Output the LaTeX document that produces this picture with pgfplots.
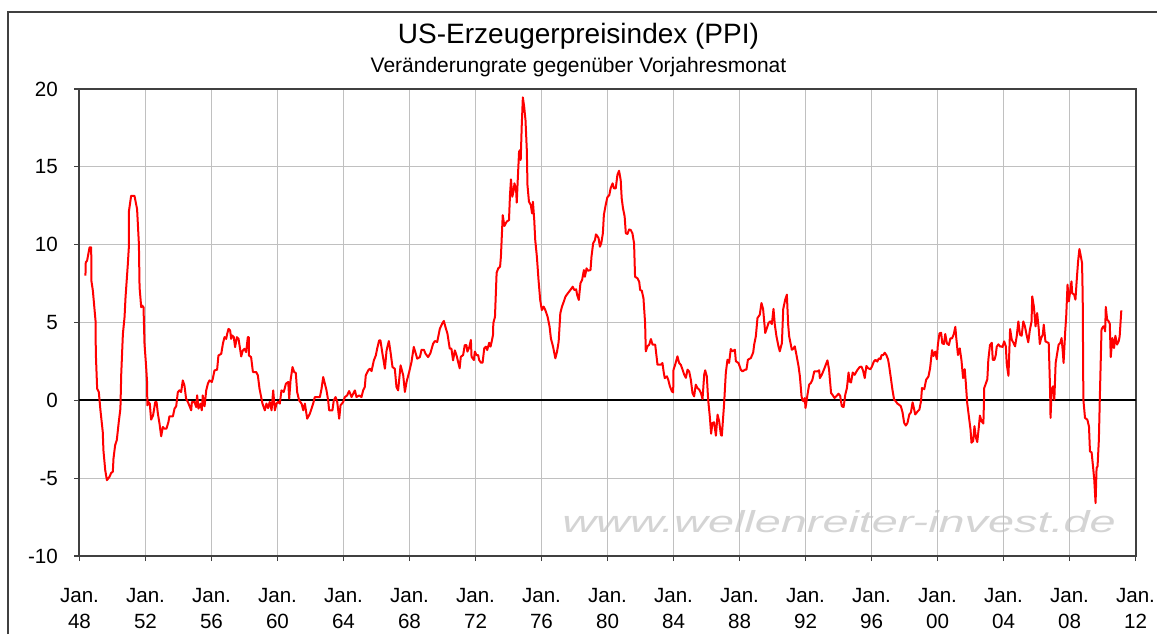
\documentclass[border=0pt]{standalone}
\usepackage{fontspec}
\setmainfont{Liberation Sans}
\usepackage{pgfplots}
\pgfplotsset{compat=1.18}
\definecolor{gridgray}{RGB}{192,192,192}
\definecolor{framegray}{RGB}{64,64,64}
\definecolor{wmgray}{RGB}{212,212,212}
\begin{document}
\begin{tikzpicture}
\useasboundingbox (0,0) rectangle (578.5pt,-317pt);
\draw[line width=1pt, framegray] (4pt,-317pt) -- (4pt,-6pt) -- (578.5pt,-6pt);
\node[font=\fontsize{14}{16}\selectfont] at (289.25pt,-18pt) {US-Erzeugerpreisindex (PPI)};
\node[font=\fontsize{10.5}{12}\selectfont] at (289.25pt,-33.5pt) {Veränderungrate gegenüber Vorjahresmonat};
\node[anchor=base west, inner sep=0pt, text=wmgray, font=\itshape\fontsize{15.2}{16}\selectfont] at (281pt,-266pt) {\scalebox{1.54}[1]{www.wellenreiter-invest.de}};
\begin{axis}[
  at={(39.75pt,-278pt)}, anchor=south west,
  scale only axis, width=528pt, height=233.5pt,
  xmin=1948, xmax=2012, ymin=-10, ymax=20,
  xtick={1948,1952,...,2012}, ytick={-10,-5,...,20},
  xticklabels={{Jan.\\48},{Jan.\\52},{Jan.\\56},{Jan.\\60},{Jan.\\64},{Jan.\\68},{Jan.\\72},{Jan.\\76},{Jan.\\80},{Jan.\\84},{Jan.\\88},{Jan.\\92},{Jan.\\96},{Jan.\\00},{Jan.\\04},{Jan.\\08},{Jan.\\12}},
  yticklabels={-10,-5,0,5,10,15,20},
  xticklabel style={align=center, font=\fontsize{10.3}{13}\selectfont, yshift=-10pt},
  yticklabel style={font=\fontsize{10.3}{13}\selectfont, xshift=-4.8pt},
  grid=major, major grid style={draw=gridgray, line width=0.5pt},
  axis line style={draw=framegray, line width=1pt},
  tick style={draw=framegray, line width=0.6pt},
  tick align=outside, major tick length=2.5pt,
  xtick pos=bottom, ytick pos=left,
  clip=false,
]
\addplot[black, line width=1pt] coordinates {(1948,0) (2012,0)};
\addplot[red, line width=1pt, line join=round] coordinates {
(1948.36,8.01) (1948.38,8.87) (1948.46,8.97) (1948.61,9.83) (1948.71,9.83) (1948.72,7.69) (1948.81,7.05) (1948.97,5.13) (1948.99,2.99) (1949.07,0.75) (1949.17,0.53) (1949.27,-0.64) (1949.41,-2.03) (1949.45,-3.21) (1949.56,-4.49) (1949.66,-5.13) (1949.82,-4.91) (1949.92,-4.66) (1950.02,-4.59) (1950.06,-3.74) (1950.16,-2.88) (1950.26,-2.56) (1950.38,-1.39) (1950.48,-0.53) (1950.53,1.71) (1950.63,4.27) (1950.73,5.34) (1950.79,6.62) (1950.93,8.76) (1950.99,9.83) (1951.00,12.18) (1951.13,13.14) (1951.33,13.14) (1951.49,12.29) (1951.60,10.04) (1951.64,7.26) (1951.74,5.98) (1951.80,6.09) (1951.88,5.98) (1951.94,3.63) (1952.04,2.14) (1952.10,1.07) (1952.11,-0.32) (1952.18,-0.11) (1952.26,-0.21) (1952.34,-1.24) (1952.46,-0.96) (1952.59,-0.11) (1952.67,-0.11) (1952.75,-0.85) (1952.85,-1.50) (1952.95,-2.31) (1953.05,-1.71) (1953.15,-1.82) (1953.27,-1.82) (1953.39,-1.39) (1953.45,-1.03) (1953.66,-1.03) (1953.76,-0.53) (1953.86,-0.38) (1953.96,0.53) (1954.06,0.64) (1954.16,0.53) (1954.26,1.28) (1954.36,0.96) (1954.46,0.11) (1954.57,-0.11) (1954.77,-0.64) (1954.81,-0.11) (1954.97,-0.11) (1955.07,-0.43) (1955.13,0.32) (1955.21,-0.53) (1955.33,-0.21) (1955.41,-0.64) (1955.47,0.32) (1955.58,-0.38) (1955.68,0.64) (1955.78,1.07) (1955.88,1.28) (1956.02,1.18) (1956.08,1.39) (1956.18,1.92) (1956.34,1.97) (1956.42,2.88) (1956.59,2.99) (1956.69,3.63) (1956.79,4.06) (1956.89,3.95) (1956.95,4.27) (1957.03,4.59) (1957.13,4.49) (1957.19,3.95) (1957.25,4.17) (1957.35,4.06) (1957.43,3.42) (1957.54,4.06) (1957.64,3.95) (1957.80,2.82) (1957.90,3.21) (1958.00,3.31) (1958.10,3.10) (1958.20,4.06) (1958.26,4.06) (1958.27,2.88) (1958.40,2.78) (1958.51,1.82) (1958.71,1.82) (1958.81,1.60) (1958.91,0.75)
(1959.09,-0.21) (1959.23,-0.64) (1959.33,-0.21) (1959.43,-0.50) (1959.53,-0.10) (1959.64,-0.64) (1959.74,0.64) (1959.84,-0.64) (1959.94,-0.21) (1960.04,-0.10) (1960.14,-0.21) (1960.24,0.64) (1960.38,0.54) (1960.51,1.07) (1960.65,1.18) (1960.71,0.11) (1960.79,1.28) (1960.91,2.14) (1961.01,1.82) (1961.11,1.76) (1961.19,0.54) (1961.31,0.00) (1961.46,-0.21) (1961.56,-0.64) (1961.66,-0.21) (1961.80,-1.18) (1961.96,-0.86) (1962.06,-0.54) (1962.16,-0.21) (1962.26,0.21) (1962.57,0.21) (1962.67,0.75) (1962.77,1.50) (1962.87,1.07) (1962.97,0.64) (1963.07,0.00) (1963.13,-0.64) (1963.33,-0.64) (1963.41,0.00) (1963.52,0.21) (1963.62,-0.11) (1963.74,-1.18) (1963.82,-0.32) (1963.98,-0.11) (1964.08,0.21) (1964.22,0.32) (1964.34,0.60) (1964.49,0.21) (1964.69,0.64) (1964.79,0.21) (1964.95,0.32) (1965.09,0.21) (1965.19,0.64) (1965.29,0.86) (1965.35,1.60) (1965.50,1.93) (1965.60,2.03) (1965.70,1.88) (1965.84,2.57) (1965.96,2.89) (1966.04,3.32) (1966.16,3.85) (1966.24,3.85) (1966.36,3.00) (1966.51,2.03) (1966.61,3.21) (1966.75,3.81) (1966.85,3.10) (1966.97,2.14) (1967.11,2.03) (1967.21,0.86) (1967.31,0.64) (1967.46,2.25) (1967.62,1.60) (1967.72,0.54) (1967.82,1.18) (1967.98,1.82) (1968.12,2.46) (1968.26,3.43) (1968.38,3.00) (1968.47,2.68) (1968.63,2.78) (1968.73,3.25) (1968.87,3.25) (1968.97,3.00) (1969.13,2.78) (1969.27,3.04) (1969.43,3.64) (1969.54,3.81) (1969.68,3.75) (1969.84,4.60) (1969.98,4.93) (1970.08,5.10) (1970.18,4.71) (1970.30,4.28) (1970.44,3.32) (1970.54,3.32) (1970.64,2.57) (1970.75,3.21) (1970.85,2.89)
(1971.04,2.06) (1971.11,2.80) (1971.25,2.91) (1971.35,3.55) (1971.45,3.55) (1971.51,3.13) (1971.62,3.40) (1971.72,3.88) (1971.76,2.80) (1971.90,2.59) (1971.96,3.13) (1972.06,2.91) (1972.16,2.91) (1972.22,2.59) (1972.33,2.42) (1972.43,2.42) (1972.53,3.34) (1972.63,3.45) (1972.71,3.23) (1972.83,3.70) (1972.91,3.45) (1972.98,3.77) (1973.06,4.20) (1973.08,4.95) (1973.18,5.37) (1973.28,8.20) (1973.38,8.48) (1973.49,8.59) (1973.54,9.23) (1973.65,11.90) (1973.75,11.20) (1973.89,11.48) (1974.03,11.58) (1974.09,13.19) (1974.15,14.20) (1974.23,13.08) (1974.32,13.51) (1974.36,13.94) (1974.46,13.55) (1974.50,12.70) (1974.56,14.15) (1974.64,15.97) (1974.70,16.08) (1974.74,15.44) (1974.80,17.58) (1974.87,19.46) (1974.95,18.86) (1975.03,18.00) (1975.11,16.08) (1975.15,13.83) (1975.24,12.76) (1975.35,12.55) (1975.43,12.01) (1975.48,12.76) (1975.56,11.58) (1975.62,10.30) (1975.72,9.23) (1975.82,7.73) (1975.92,6.45) (1976.02,5.80) (1976.13,6.02) (1976.23,5.80) (1976.37,5.37) (1976.49,4.73) (1976.57,3.98) (1976.70,3.45) (1976.84,2.70) (1976.94,3.13) (1977.04,3.77) (1977.14,5.59) (1977.24,6.02) (1977.35,6.34) (1977.45,6.66) (1977.59,6.87) (1977.75,7.09) (1977.89,7.30) (1977.99,7.09) (1978.10,7.13) (1978.16,6.77) (1978.26,6.45) (1978.36,7.52) (1978.46,7.73) (1978.57,8.37) (1978.63,7.94) (1978.73,8.48) (1978.81,8.33) (1978.97,8.37) (1979.03,9.23) (1979.13,10.09) (1979.24,10.30) (1979.30,10.66) (1979.38,10.56) (1979.46,10.41) (1979.54,9.87) (1979.62,10.09) (1979.72,10.73) (1979.78,11.91) (1979.89,12.55) (1979.99,13.04) (1980.11,13.19) (1980.19,13.62) (1980.31,13.94) (1980.39,13.62) (1980.50,13.62) (1980.60,14.48) (1980.70,14.75) (1980.80,14.15) (1980.86,12.98) (1980.94,12.33) (1981.04,11.80) (1981.11,10.73) (1981.21,10.69) (1981.31,10.98) (1981.41,10.94) (1981.51,10.73) (1981.61,10.09) (1981.67,7.94) (1981.82,7.84) (1981.92,7.62) (1981.98,7.09) (1982.08,7.04) (1982.18,6.55) (1982.28,4.95)
(1982.32,3.15) (1982.42,3.47) (1982.53,3.58) (1982.63,3.94) (1982.73,3.58) (1982.89,3.58) (1983.03,2.29) (1983.23,2.29) (1983.33,2.40) (1983.40,1.85) (1983.47,1.43) (1983.60,1.54) (1983.68,1.33) (1983.78,0.90) (1983.90,0.58) (1983.98,0.51) (1984.00,1.97) (1984.10,2.29) (1984.24,2.83) (1984.34,2.40) (1984.44,2.29) (1984.55,1.97) (1984.65,1.65) (1984.75,1.45) (1984.85,1.97) (1984.95,1.86) (1985.05,1.33) (1985.15,0.47) (1985.25,0.26) (1985.35,1.01) (1985.45,0.79) (1985.56,0.69) (1985.66,0.47) (1985.76,0.09) (1985.86,1.65) (1985.92,1.93) (1986.02,1.54) (1986.10,0.04) (1986.20,-1.03) (1986.28,-2.14) (1986.36,-1.46) (1986.46,-1.41) (1986.57,-2.27) (1986.67,-0.92) (1986.77,-1.35) (1986.87,-2.21) (1986.93,-2.27) (1987.07,-0.17) (1987.17,1.76) (1987.27,2.61) (1987.37,2.40) (1987.47,3.30) (1987.58,3.15) (1987.72,3.25) (1987.78,2.51) (1987.94,2.40) (1988.08,1.97) (1988.18,1.86) (1988.34,1.97) (1988.42,1.97) (1988.51,2.61) (1988.69,2.72) (1988.83,3.08) (1988.89,3.58) (1988.99,4.11) (1989.09,5.29) (1989.23,5.50) (1989.33,6.25) (1989.43,5.87) (1989.56,4.33) (1989.64,4.58) (1989.76,4.97) (1989.86,5.07) (1989.96,4.90) (1990.06,5.87) (1990.14,4.86) (1990.24,4.11) (1990.36,3.47) (1990.44,3.15) (1990.57,3.68) (1990.65,5.87) (1990.77,6.47) (1990.87,6.79) (1990.95,4.86) (1991.01,4.11) (1991.11,3.58) (1991.17,3.25) (1991.25,3.30) (1991.35,3.47) (1991.45,2.93) (1991.58,2.18) (1991.66,1.54) (1991.76,0.26) (1991.82,0.00) (1991.88,-0.06) (1991.96,0.15) (1992.00,-0.49) (1992.12,0.36) (1992.22,1.01) (1992.32,1.11) (1992.42,1.33) (1992.53,1.86) (1992.73,1.86) (1992.83,1.93) (1992.87,1.43) (1992.99,1.65) (1993.13,2.01) (1993.23,2.29) (1993.33,2.57) (1993.43,1.97) (1993.47,1.43)
(1993.55,0.47) (1993.63,0.36) (1993.76,0.15) (1993.90,0.30) (1994.00,0.43) (1994.10,0.30) (1994.20,-0.38) (1994.31,-0.43) (1994.41,0.36) (1994.51,0.79) (1994.61,1.79) (1994.67,1.21) (1994.76,1.15) (1994.86,1.79) (1994.98,1.64) (1995.12,1.91) (1995.27,2.13) (1995.39,2.17) (1995.49,1.91) (1995.59,1.43) (1995.69,2.21) (1995.80,2.06) (1995.94,2.00) (1996.04,2.21) (1996.14,2.49) (1996.24,2.60) (1996.35,2.49) (1996.45,2.70) (1996.55,2.65) (1996.61,2.91) (1996.71,2.91) (1996.80,3.06) (1996.90,2.91) (1997.00,2.64) (1997.06,2.28) (1997.16,1.53) (1997.27,0.68) (1997.37,0.04) (1997.47,-0.06) (1997.57,-0.21) (1997.67,-0.28) (1997.78,-0.38) (1997.88,-0.77) (1997.98,-1.45) (1998.08,-1.62) (1998.18,-1.45) (1998.29,-0.91) (1998.39,-0.77) (1998.49,-0.13) (1998.59,-0.60) (1998.65,-0.91) (1998.80,-0.70) (1998.90,-0.60) (1999.00,-0.06) (1999.06,0.79) (1999.20,0.72) (1999.31,1.32) (1999.45,1.53) (1999.55,2.06) (1999.67,3.23) (1999.76,2.85) (1999.86,3.13) (1999.96,2.64) (2000.02,3.55) (2000.12,4.30) (2000.22,4.34) (2000.29,3.66) (2000.39,3.62) (2000.47,4.26) (2000.57,3.66) (2000.69,3.55) (2000.78,3.98) (2000.88,3.98) (2000.98,4.23) (2001.08,4.72) (2001.14,3.98) (2001.24,2.91) (2001.35,3.34) (2001.45,2.60) (2001.55,1.43) (2001.65,2.00) (2001.71,1.21) (2001.80,-0.17) (2001.90,-1.02) (2002.00,-1.87) (2002.06,-2.72) (2002.16,-2.62) (2002.24,-1.66) (2002.33,-2.40) (2002.41,-2.68) (2002.51,-1.66) (2002.57,-0.98) (2002.67,-1.34) (2002.78,-1.49) (2002.82,0.04) (2002.83,0.79) (2002.94,1.11) (2003.02,1.36) (2003.08,2.60) (2003.18,3.55) (2003.29,3.70) (2003.35,2.60) (2003.45,2.60) (2003.53,2.91) (2003.59,3.45) (2003.69,3.60) (2003.80,3.45)
(2003.84,3.47) (2003.94,3.43) (2004.04,3.79) (2004.14,3.47) (2004.20,2.29) (2004.30,1.58) (2004.40,4.58) (2004.50,3.90) (2004.60,3.70) (2004.70,3.47) (2004.80,4.11) (2004.90,5.07) (2005.00,4.22) (2005.10,4.15) (2005.20,5.07) (2005.30,4.75) (2005.40,4.20) (2005.50,3.73) (2005.60,4.54) (2005.70,5.07) (2005.74,6.68) (2005.84,6.04) (2005.94,4.75) (2006.04,5.61) (2006.14,4.54) (2006.20,3.62) (2006.28,4.00) (2006.38,4.22) (2006.44,4.86) (2006.54,3.79) (2006.64,3.73) (2006.74,3.68) (2006.80,1.54) (2006.84,-0.17) (2006.85,-1.13) (2006.92,0.73) (2007.00,0.90) (2007.08,0.04) (2007.16,2.40) (2007.24,2.93) (2007.34,3.58) (2007.44,3.68) (2007.52,4.00) (2007.60,3.04) (2007.64,2.40) (2007.74,4.43) (2007.80,5.40) (2007.88,7.43) (2007.96,6.36) (2008.04,7.00) (2008.12,7.64) (2008.16,6.89) (2008.28,6.79) (2008.36,6.47) (2008.44,7.75) (2008.52,8.93) (2008.60,9.72) (2008.68,9.29) (2008.76,8.82) (2008.80,6.68) (2008.84,0.04) (2008.94,-1.13) (2009.08,-1.24) (2009.18,-1.67) (2009.24,-3.28) (2009.34,-3.34) (2009.44,-4.41) (2009.50,-5.10) (2009.58,-6.60) (2009.64,-4.35) (2009.70,-4.24) (2009.78,-2.53) (2009.84,0.26) (2009.94,4.54) (2010.04,4.75) (2010.10,4.75) (2010.16,4.43) (2010.20,6.00) (2010.28,5.18) (2010.36,5.10) (2010.44,4.93) (2010.50,2.78) (2010.60,4.00) (2010.70,3.36) (2010.78,4.15) (2010.88,3.58) (2010.98,3.79) (2011.04,4.11) (2011.14,5.78)
};
\end{axis}
\end{tikzpicture}
\end{document}
